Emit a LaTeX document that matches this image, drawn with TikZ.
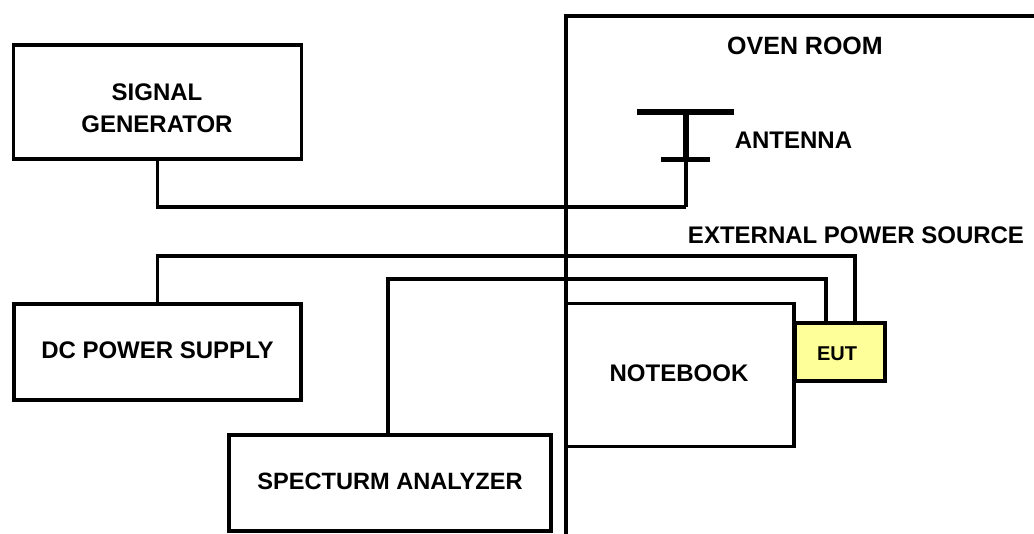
\documentclass[tikz,border=0pt]{standalone}
\usepackage{fontspec}
\setmainfont{Liberation Sans}
\usetikzlibrary{positioning}
\definecolor{eutyellow}{HTML}{FFFF99}
\begin{document}
\begin{tikzpicture}[x=1pt,y=-1pt,
    box/.style={draw, line width=3.9pt, inner sep=0pt},
    wire/.style={draw, line width=3.4pt},
    rod/.style={draw, line width=5.4pt},
    lbl/.style={inner sep=0pt, font=\fontsize{24}{32}\selectfont\bfseries},
]
\useasboundingbox (0,0) rectangle (1034,534);
\node[box, minimum width=288pt, minimum height=114pt] (siggen) at (157.5,102) {};
\node[lbl, align=center] (sglabel) at (157,108) {SIGNAL\\GENERATOR};
\node[box, minimum width=287pt, minimum height=96pt] (dcpower) at (157.5,352) {};
\node[lbl] (dclabel) at (157.5,350) {DC POWER SUPPLY};
\node[box, minimum width=322pt, minimum height=96pt] (analyzer) at (390,483) {};
\node[lbl, font=\fontsize{23.6}{32}\selectfont\bfseries] (salabel) at (390,481.5) {SPECTURM ANALYZER};
\node[box, line width=3.4pt, minimum width=228pt, minimum height=143pt] (notebook) at (680,375) {};
\node[lbl] (nblabel) at (679,373) {NOTEBOOK};
\node[box, fill=eutyellow, minimum width=90pt, minimum height=58pt] (eut) at (840,352) {};
\node[lbl, font=\fontsize{20}{24}\selectfont\bfseries] (eutlabel) at (837,354) {EUT};
\node[lbl, font=\fontsize{25}{32}\selectfont\bfseries] (oven) at (805,46) {OVEN ROOM};
\node[lbl] (antlabel) at (793.5,140) {ANTENNA};
\node[lbl] (extlabel) at (856,235) {EXTERNAL POWER SOURCE};
% oven room wall
\coordinate (walltop) at (566,16);
\coordinate (wallright) at (1034,16);
\coordinate (wallbottom) at (566,534);
\draw[wire] (wallright) -- (walltop) -- (wallbottom);
% antenna
\coordinate (dipleft) at (637,112);
\coordinate (dipright) at (733.5,112);
\coordinate (dipmid) at (686,112);
\coordinate (barleft) at (661,159.5);
\coordinate (barright) at (709.5,159.5);
\coordinate (barmid) at (686,159.5);
\coordinate (antfoot) at (686,207);
\draw[rod] (dipleft) -- (dipright);
\draw[rod] (barleft) -- (barright);
\draw[rod] (dipmid) -- (barmid);
\draw[wire] (barmid) -- (antfoot);
% cables
\coordinate (sgbend) at (157.5,207);
\coordinate (dcbend) at (157.5,256);
\coordinate (eutbend) at (855,256);
\coordinate (sabend) at (388,279);
\coordinate (nbbend) at (826,279);
\draw[wire] (siggen.south) -- (sgbend) -- (antfoot);
\draw[wire] (dcpower.north) -- (dcbend) -- (eutbend) -- (eutbend |- eut.north);
\draw[wire] (sabend |- analyzer.north) -- (sabend) -- (nbbend) -- (nbbend |- eut.north);
\end{tikzpicture}
\end{document}
